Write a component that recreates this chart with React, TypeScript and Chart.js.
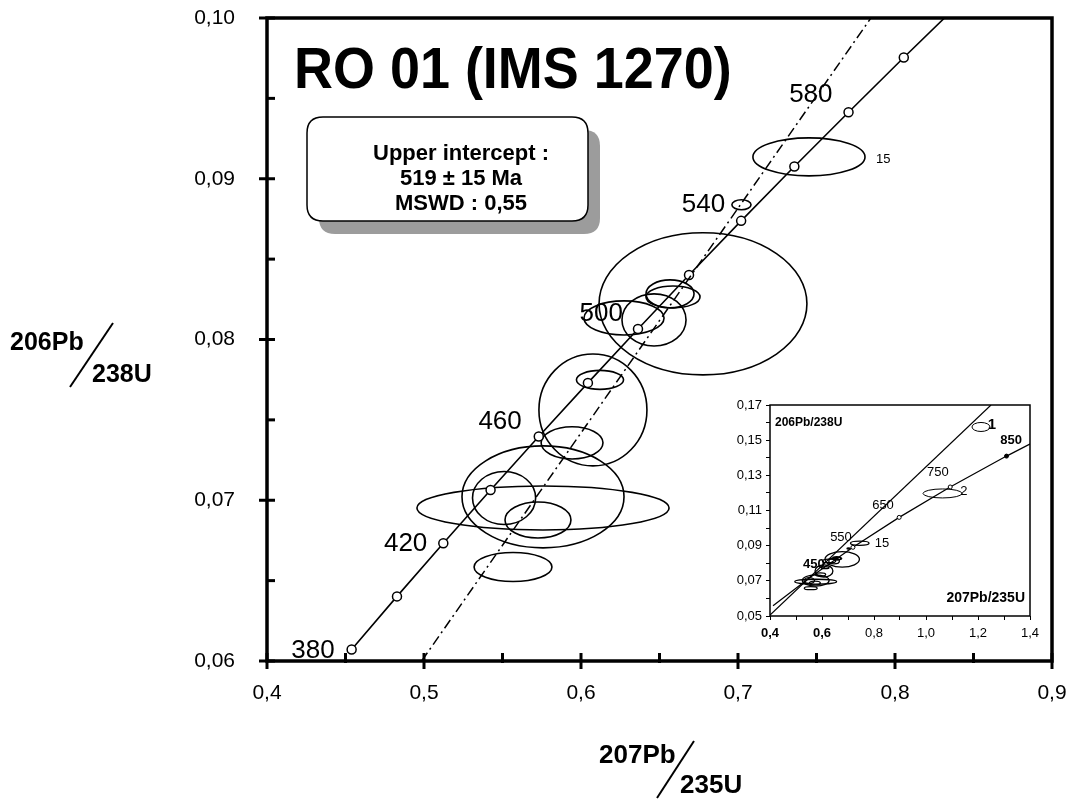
import React, { useEffect, useRef } from 'react';
import { Chart, registerables } from 'chart.js';

Chart.register(...registerables);
Chart.defaults.font.family = "'Liberation Sans', Arial, Helvetica, sans-serif";
Chart.defaults.color = '#000';

// ---------- main diagram data ----------
// Concordia ages (Ma) with 207Pb/235U (x) and 206Pb/238U (y)
const CONC_AGES = [380, 400, 420, 440, 460, 480, 500, 520, 540, 560, 580, 600, 620];
const CONC_X = [0.4539, 0.4828, 0.5123, 0.5424, 0.5731, 0.6044, 0.6363, 0.6688, 0.7020, 0.7359, 0.7704, 0.8056, 0.8416];
const CONC_Y = [0.06072, 0.06402, 0.06732, 0.07064, 0.07397, 0.07730, 0.08065, 0.08401, 0.08738, 0.09076, 0.09414, 0.09754, 0.10096];
const CONC_LABELS = ['380', '', '420', '', '460', '', '500', '', '540', '', '580', '', ''];

// Discordia (dash-dot)
const DISC_X = [0.4985, 0.7868];
const DISC_Y = [0.0600, 0.1003];

// Error ellipses: centre and half-widths
const ELL_X = [0.7452, 0.7022, 0.6777, 0.6567, 0.6586, 0.6274, 0.6465, 0.6076, 0.6121, 0.5943, 0.5758, 0.5758, 0.5510, 0.5726, 0.5567];
const ELL_Y = [0.09136, 0.08838, 0.08222, 0.08284, 0.08265, 0.08134, 0.08122, 0.07562, 0.07749, 0.07357, 0.07021, 0.06952, 0.07014, 0.06877, 0.06585];
const ELL_SX = [0.0357, 0.0061, 0.0662, 0.0153, 0.0172, 0.0255, 0.0204, 0.0344, 0.0150, 0.0197, 0.0516, 0.0803, 0.0201, 0.0210, 0.0248];
const ELL_SY = [0.00118, 0.00031, 0.00442, 0.00087, 0.00068, 0.00106, 0.00162, 0.00348, 0.00059, 0.00100, 0.00317, 0.00137, 0.00165, 0.00112, 0.00090];
const ELL_NAMES = ['15', '', '', '', '', '', '', '', '', '', '', '', '', '', ''];

const TITLE = 'RO 01 (IMS 1270)';
const BOX_LINES = ['Upper intercept :', '519 \u00B1 15 Ma', 'MSWD : 0,55'];

// ---------- inset data ----------
const INSET_CONC_AGES = [350, 450, 550, 650, 750, 850, 900];
const INSET_CONC_X = [0.4116, 0.5577, 0.7189, 0.8968, 1.0931, 1.3097, 1.4263];
const INSET_CONC_Y = [0.05580, 0.07230, 0.08906, 0.10609, 0.12338, 0.14094, 0.14983];
const INSET_DISC_X = [0.40, 1.25];
const INSET_DISC_Y = [0.0505, 0.1700];
const INSET_ELL_X = [1.2115, 1.0635];
const INSET_ELL_Y = [0.1575, 0.1197];
const INSET_ELL_SX = [0.0346, 0.0750];
const INSET_ELL_SY = [0.00256, 0.00256];
const INSET_NOTE_TEXT = ['1', '850', '750', '2', '650', '550', '15', '450'];
const INSET_NOTE_X = [1.2538, 1.327, 1.046, 1.146, 0.8346, 0.673, 0.8308, 0.569];
const INSET_NOTE_Y = [0.1586, 0.1501, 0.1319, 0.1211, 0.1131, 0.0949, 0.0915, 0.0796];
const INSET_NOTE_BOLD = [true, true, false, false, false, false, false, true];
const INSET_NOTE_SIZE = [15, 13, 13, 13, 13, 13, 13, 13];

const FONT = "'Liberation Sans', Arial, Helvetica, sans-serif";

// label offsets (pixels) for concordia age labels, right-aligned
const LABEL_OFFSET: Record<string, [number, number]> = {
  '380': [-17, 1], '420': [-16, 0], '460': [-17, -15], '500': [-15, -15], '540': [-16, -16], '580': [-16, -17],
};

function drawEllipses(chart: any, xs: number[], ys: number[], sx: number[], sy: number[], lw: number) {
  const { ctx, chartArea: a, scales: { x, y } } = chart;
  ctx.save();
  ctx.beginPath();
  ctx.rect(a.left, a.top, a.right - a.left, a.bottom - a.top);
  ctx.clip();
  ctx.strokeStyle = '#000';
  ctx.lineWidth = lw;
  for (let i = 0; i < xs.length; i++) {
    const cx = x.getPixelForValue(xs[i]);
    const cy = y.getPixelForValue(ys[i]);
    const rx = Math.abs(x.getPixelForValue(xs[i] + sx[i]) - cx);
    const ry = Math.abs(y.getPixelForValue(ys[i] + sy[i]) - cy);
    ctx.beginPath();
    ctx.ellipse(cx, cy, rx, ry, 0, 0, Math.PI * 2);
    ctx.stroke();
  }
  ctx.restore();
}

function roundRect(ctx: CanvasRenderingContext2D, x: number, y: number, w: number, h: number, r: number) {
  ctx.beginPath();
  ctx.moveTo(x + r, y);
  ctx.lineTo(x + w - r, y);
  ctx.quadraticCurveTo(x + w, y, x + w, y + r);
  ctx.lineTo(x + w, y + h - r);
  ctx.quadraticCurveTo(x + w, y + h, x + w - r, y + h);
  ctx.lineTo(x + r, y + h);
  ctx.quadraticCurveTo(x, y + h, x, y + h - r);
  ctx.lineTo(x, y + r);
  ctx.quadraticCurveTo(x, y, x + r, y);
  ctx.closePath();
}

const mainDecor = {
  id: 'mainDecor',
  beforeDatasetsDraw(chart: any) {
    drawEllipses(chart, ELL_X, ELL_Y, ELL_SX, ELL_SY, 1.6);
  },
  afterDraw(chart: any) {
    const { ctx, chartArea: a, scales: { x, y } } = chart;
    ctx.save();
    ctx.strokeStyle = '#000';
    ctx.fillStyle = '#000';
    // frame
    ctx.lineWidth = 3.5;
    ctx.strokeRect(a.left, a.top, a.right - a.left, a.bottom - a.top);
    // ticks
    ctx.lineWidth = 3;
    const xt = x.ticks.map((t: any) => t.value);
    const yt = y.ticks.map((t: any) => t.value);
    xt.forEach((v: number) => {
      const px = x.getPixelForValue(v);
      ctx.beginPath(); ctx.moveTo(px, a.bottom - 8); ctx.lineTo(px, a.bottom + 8); ctx.stroke();
    });
    for (let i = 0; i < xt.length - 1; i++) {
      const px = x.getPixelForValue((xt[i] + xt[i + 1]) / 2);
      ctx.beginPath(); ctx.moveTo(px, a.bottom - 8); ctx.lineTo(px, a.bottom + 2); ctx.stroke();
    }
    yt.forEach((v: number) => {
      const py = y.getPixelForValue(v);
      ctx.beginPath(); ctx.moveTo(a.left - 8, py); ctx.lineTo(a.left + 8, py); ctx.stroke();
    });
    for (let i = 0; i < yt.length - 1; i++) {
      const py = y.getPixelForValue((yt[i] + yt[i + 1]) / 2);
      ctx.beginPath(); ctx.moveTo(a.left - 1, py); ctx.lineTo(a.left + 8, py); ctx.stroke();
    }

    // concordia age labels
    ctx.font = `26px ${FONT}`;
    ctx.textAlign = 'right';
    ctx.textBaseline = 'middle';
    CONC_LABELS.forEach((lab, i) => {
      if (!lab) return;
      const off = LABEL_OFFSET[lab] || [-16, -15];
      const px = x.getPixelForValue(CONC_X[i]);
      const py = y.getPixelForValue(CONC_Y[i]);
      ctx.fillText(lab, px + off[0], py + off[1]);
    });

    // ellipse names
    ctx.font = `13px ${FONT}`;
    ctx.textAlign = 'left';
    ELL_NAMES.forEach((n, i) => {
      if (!n) return;
      const cx = x.getPixelForValue(ELL_X[i] + ELL_SX[i]);
      const cy = y.getPixelForValue(ELL_Y[i]);
      ctx.fillText(n, cx + 11, cy + 3);
    });

    // title (slightly condensed, tall)
    ctx.save();
    ctx.font = `bold 58px ${FONT}`;
    ctx.textAlign = 'left';
    ctx.textBaseline = 'alphabetic';
    ctx.translate(a.left + 27, a.top + 70);
    ctx.scale(0.93, 1);
    ctx.fillText(TITLE, 0, 0);
    ctx.restore();

    // result box with shadow
    const bx = a.left + 40, by = a.top + 99, bw = 281, bh = 104;
    ctx.fillStyle = '#9c9c9c';
    roundRect(ctx, bx + 12, by + 13, bw, bh, 16);
    ctx.fill();
    ctx.fillStyle = '#fff';
    roundRect(ctx, bx, by, bw, bh, 16);
    ctx.fill();
    ctx.lineWidth = 1.5;
    ctx.strokeStyle = '#000';
    ctx.stroke();
    ctx.fillStyle = '#000';
    ctx.font = `bold 22px ${FONT}`;
    ctx.textAlign = 'center';
    ctx.textBaseline = 'alphabetic';
    BOX_LINES.forEach((l, i) => ctx.fillText(l, bx + 154, by + 43 + i * 25));

    // axis titles
    ctx.textAlign = 'left';
    ctx.font = `bold 25px ${FONT}`;
    ctx.fillText('206Pb', 10, 350);
    ctx.fillText('238U', 92, 382);
    ctx.lineWidth = 2;
    ctx.beginPath(); ctx.moveTo(113, 323); ctx.lineTo(70, 387); ctx.stroke();
    ctx.font = `bold 26px ${FONT}`;
    ctx.fillText('207Pb', 599, 763);
    ctx.fillText('235U', 680, 793);
    ctx.beginPath(); ctx.moveTo(694, 741); ctx.lineTo(657, 798); ctx.stroke();
    ctx.restore();
  },
};

const insetDecor = {
  id: 'insetDecor',
  beforeDraw(chart: any) {
    const { ctx, width, height } = chart;
    ctx.save();
    ctx.fillStyle = '#fff';
    ctx.fillRect(0, 0, width, height);
    ctx.restore();
  },
  beforeDatasetsDraw(chart: any) {
    drawEllipses(chart, ELL_X, ELL_Y, ELL_SX, ELL_SY, 1.3);
    drawEllipses(chart, INSET_ELL_X, INSET_ELL_Y, INSET_ELL_SX, INSET_ELL_SY, 1);
  },
  afterDraw(chart: any) {
    const { ctx, chartArea: a, scales: { x, y } } = chart;
    ctx.save();
    ctx.strokeStyle = '#000';
    ctx.lineWidth = 1.5;
    ctx.strokeRect(a.left, a.top, a.right - a.left, a.bottom - a.top);
    ctx.fillStyle = '#000';
    ctx.textAlign = 'center';
    ctx.textBaseline = 'middle';
    INSET_NOTE_TEXT.forEach((t, i) => {
      ctx.font = `${INSET_NOTE_BOLD[i] ? 'bold ' : ''}${INSET_NOTE_SIZE[i]}px ${FONT}`;
      ctx.fillText(t, x.getPixelForValue(INSET_NOTE_X[i]), y.getPixelForValue(INSET_NOTE_Y[i]));
    });
    ctx.textAlign = 'left';
    ctx.font = `bold 12px ${FONT}`;
    ctx.fillText('206Pb/238U', a.left + 5, a.top + 18);
    ctx.textAlign = 'right';
    ctx.font = `bold 14px ${FONT}`;
    ctx.fillText('207Pb/235U', a.right - 5, a.bottom - 18);
    ctx.restore();
  },
};

export default function App() {
  const mainRef = useRef<HTMLCanvasElement>(null);
  const insetRef = useRef<HTMLCanvasElement>(null);

  useEffect(() => {
    const main = new Chart(mainRef.current as HTMLCanvasElement, {
      type: 'scatter',
      data: {
        datasets: [
          {
            label: 'Discordia',
            data: DISC_X.map((v, i) => ({ x: v, y: DISC_Y[i] })),
            showLine: true,
            borderColor: '#000',
            borderWidth: 1.5,
            borderDash: [10, 4, 2, 4],
            pointRadius: 0,
            clip: 0,
          } as any,
          {
            label: 'Concordia',
            data: CONC_X.map((v, i) => ({ x: v, y: CONC_Y[i] })),
            showLine: true,
            borderColor: '#000',
            borderWidth: 1.6,
            pointRadius: CONC_AGES.map((t) => (t <= 600 ? 4.5 : 0)),
            pointBackgroundColor: '#fff',
            pointBorderColor: '#000',
            pointBorderWidth: 1.5,
            clip: 0,
          } as any,
        ],
      },
      options: {
        animation: false,
        responsive: false,
        devicePixelRatio: 1,
        layout: { padding: { top: 18, right: 21, left: 0, bottom: 0 } },
        plugins: { legend: { display: false }, tooltip: { enabled: false } },
        scales: {
          x: {
            type: 'linear',
            min: 0.4,
            max: 0.9,
            afterFit: (s: any) => { s.height = 140; s.paddingLeft = 0; s.paddingRight = 0; },
            grid: { display: false, drawTicks: false },
            border: { display: false },
            ticks: {
              stepSize: 0.1,
              autoSkip: false,
              padding: 20,
              color: '#000',
              font: { size: 21 },
              callback: (v: any) => Number(v).toFixed(1).replace('.', ','),
            },
          },
          y: {
            type: 'linear',
            min: 0.06,
            max: 0.1,
            afterFit: (s: any) => { s.width = 267; s.paddingTop = 0; s.paddingBottom = 0; },
            grid: { display: false, drawTicks: false },
            border: { display: false },
            ticks: {
              stepSize: 0.01,
              autoSkip: false,
              padding: 32,
              color: '#000',
              font: { size: 21 },
              callback: (v: any) => Number(v).toFixed(2).replace('.', ','),
            },
          },
        },
      } as any,
      plugins: [mainDecor],
    });

    const inset = new Chart(insetRef.current as HTMLCanvasElement, {
      type: 'scatter',
      data: {
        datasets: [
          {
            label: 'Discordia',
            data: INSET_DISC_X.map((v, i) => ({ x: v, y: INSET_DISC_Y[i] })),
            showLine: true,
            borderColor: '#000',
            borderWidth: 1.2,
            pointRadius: 0,
            clip: 0,
          } as any,
          {
            label: 'Concordia',
            data: INSET_CONC_X.map((v, i) => ({ x: v, y: INSET_CONC_Y[i] })),
            showLine: true,
            borderColor: '#000',
            borderWidth: 1.2,
            pointRadius: INSET_CONC_AGES.map((t) => (t >= 550 && t <= 850 ? 2 : 0)),
            pointBackgroundColor: INSET_CONC_AGES.map((t) => (t === 850 ? '#000' : '#fff')),
            pointBorderColor: '#000',
            pointBorderWidth: 1,
            clip: 0,
          } as any,
        ],
      },
      options: {
        animation: false,
        responsive: false,
        devicePixelRatio: 1,
        layout: { padding: { top: 12, right: 18, left: 0, bottom: 0 } },
        plugins: { legend: { display: false }, tooltip: { enabled: false } },
        scales: {
          x: {
            type: 'linear',
            min: 0.4,
            max: 1.4,
            afterFit: (s: any) => { s.height = 35; s.paddingLeft = 0; s.paddingRight = 0; },
            grid: { display: true, drawOnChartArea: false, drawTicks: true, tickLength: 4, color: '#000' },
            border: { display: false },
            ticks: {
              stepSize: 0.1,
              autoSkip: false,
              maxRotation: 0,
              padding: 6,
              color: '#000',
              font: (c: any) => ({ size: 13, weight: c.tick && c.tick.value < 0.7 ? 'bold' : 'normal' }),
              callback: (v: any) => (Math.round(Number(v) * 10) % 2 === 0 ? Number(v).toFixed(1).replace('.', ',') : ''),
            },
          },
          y: {
            type: 'linear',
            min: 0.05,
            max: 0.17,
            afterFit: (s: any) => { s.width = 52; s.paddingTop = 0; s.paddingBottom = 0; },
            grid: { display: true, drawOnChartArea: false, drawTicks: true, tickLength: 4, color: '#000' },
            border: { display: false },
            ticks: {
              stepSize: 0.01,
              autoSkip: false,
              padding: 4,
              color: '#000',
              font: { size: 13 },
              callback: (v: any) => (Math.round(Number(v) * 100) % 2 === 1 ? Number(v).toFixed(2).replace('.', ',') : ''),
            },
          },
        },
      } as any,
      plugins: [insetDecor],
    });

    return () => {
      main.destroy();
      inset.destroy();
    };
  }, []);

  return (
    <div style={{ position: 'absolute', left: 0, top: 0, width: 1073, height: 801, background: '#fff' }}>
      <canvas ref={mainRef} width={1073} height={801} style={{ position: 'absolute', left: 0, top: 0 }} />
      <canvas ref={insetRef} width={330} height={258} style={{ position: 'absolute', left: 718, top: 393 }} />
    </div>
  );
}
